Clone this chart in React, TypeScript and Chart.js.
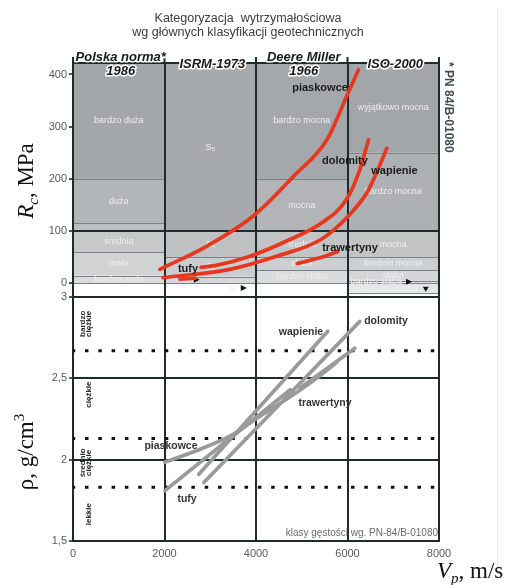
import React, { useEffect, useRef } from "react";
import { Chart, registerables } from "chart.js";

Chart.register(...registerables);

const SANS = '"Liberation Sans", Arial, sans-serif';
const SERIF = '"Liberation Serif", "Times New Roman", serif';

// ---- axes ----
const vpTicks = [0, 2000, 4000, 6000, 8000];
const rcTicks = [0, 100, 200, 300, 400];
const rhoTicks = [1.5, 2, 2.5, 3];
const rcRange = [-26, 422];
const rhoRange = [1.5, 3];

// ---- classification columns (top panel) ----
const columnEdges = [0, 2000, 4000, 6000, 8000];
const columnTitles = [["Polska norma*", "1986"], ["ISRM-1973"], ["Deere Miller", "1966"], ["ISO-2000"]];

const polskaBounds = [422, 200, 115, 100, 60, 15, 0];
const polskaClasses = ["bardzo duża", "duża", "", "średnia", "mała", "bardzo mała"];
const polskaColors = ["#a4a7aa", "#b3b6b8", "#bcbec1", "#c6c8ca", "#d0d2d4", "#dadcdd"];

const isrmBounds = [422, 100, 50, 13, 0];
const isrmClasses = ["S₅", "S₄", "S₃", ""];
const isrmColors = ["#a7aaad", "#bec0c2", "#cacccf", "#d5d7d8"];

const deereBounds = [422, 200, 100, 50, 25, 0];
const deereClasses = ["bardzo mocna", "mocna", "średnia", "słaba", "bardzo słaba"];
const deereColors = ["#a5a8ab", "#b2b4b7", "#c2c4c6", "#ccced0", "#d9dbdc"];

const isoBounds = [422, 250, 100, 50, 25, 5, 1, -18];
const isoClasses = ["wyjątkowo mocna", "bardzo mocna", "mocna", "średnio mocna", "słaba", "", ""];
const isoColors = ["#a3a6a9", "#aeb1b3", "#c2c4c6", "#cdcfd1", "#d4d6d8", "#dadcdd", "#e3e5e6"];

const arrowLabelText = ["S₂", "S₁", "bardzo słaba", "wyjątkowo słaba"];
const arrowLabelVp = [2450, 3480, 6630, 6820];
const arrowLabelRc = [7, -9, 3, -10];

// ---- Rc vs Vp curves (top panel) ----
const piaskowceVp = [1900, 2920, 3940, 4820, 5550, 5980, 6240];
const piaskowceRc = [27, 71, 129, 205, 275, 358, 409];
const dolomityVp = [2800, 3100, 3870, 4740, 5440, 5980, 6270, 6460];
const dolomityRc = [31, 34, 52, 84, 116, 161, 218, 275];
const wapienieVp = [1970, 3430, 4450, 5420, 6020, 6420, 6600, 6860];
const wapienieRc = [11, 27, 52, 84, 129, 173, 205, 259];
const trawertynyVp = [4900, 5350, 5790];
const trawertynyRc = [38, 48, 61];
const tufyVp = [2340, 2670];
const tufyRc = [8, 10];

const topLabelText = ["piaskowce", "dolomity", "wapienie", "trawertyny", "tufy"];
const topLabelVp = [5400, 5945, 7027, 6055, 2514];
const topLabelRc = [375, 235, 216, 67, 27];

// ---- density vs Vp lines (bottom panel) ----
const piaskowceVpB = [2010, 2780, 3500, 4020, 4740, 5330, 5770];
const piaskowceRho = [1.985, 2.064, 2.156, 2.255, 2.385, 2.502, 2.6];
const wapienieVpB = [2750, 5570];
const wapienieRho = [1.91, 2.79];
const dolomityVpB = [2860, 6270];
const dolomityRho = [1.86, 2.85];
const trawertynyVpB = [4960, 6160];
const trawertynyRho = [2.44, 2.685];
const tufyVpB = [2010, 4750];
const tufyRho = [1.81, 2.43];

const bottomLabelText = ["wapienie", "dolomity", "trawertyny", "piaskowce", "tufy"];
const bottomLabelVp = [4984, 6842, 5508, 2142, 2492];
const bottomLabelRho = [2.786, 2.854, 2.348, 2.082, 1.755];

// density classes PN-84/B-01080
const densityBounds = [1.5, 1.83, 2.13, 2.67, 3];
const densityClasses = [["lekkie"], ["średnio", "ciężkie"], ["ciężkie"], ["bardzo", "ciężkie"]];

type Part = { text: string; font: string; dy?: number };

function drawRich(ctx: CanvasRenderingContext2D, parts: Part[], x: number, y: number, angle: number, align: "left" | "center") {
  ctx.save();
  ctx.translate(x, y);
  ctx.rotate(angle);
  ctx.textAlign = "left";
  ctx.textBaseline = "alphabetic";
  let total = 0;
  for (const p of parts) {
    ctx.font = p.font;
    total += ctx.measureText(p.text).width;
  }
  let cx = align === "center" ? -total / 2 : 0;
  for (const p of parts) {
    ctx.font = p.font;
    ctx.fillText(p.text, cx, p.dy || 0);
    cx += ctx.measureText(p.text).width;
  }
  ctx.restore();
}

const toPts = (xs: number[], ys: number[]) => xs.map((x, i) => ({ x, y: ys[i] }));

const columns = [
  { bounds: polskaBounds, classes: polskaClasses, colors: polskaColors },
  { bounds: isrmBounds, classes: isrmClasses, colors: isrmColors },
  { bounds: deereBounds, classes: deereClasses, colors: deereColors },
  { bounds: isoBounds, classes: isoClasses, colors: isoColors },
];

const DARK = "#1f2a2c";

const decorPlugin = {
  id: "decor",
  beforeDraw(chart: any) {
    const { ctx } = chart;
    const xs = chart.scales.x;
    const yt = chart.scales.yTop;
    ctx.save();
    ctx.fillStyle = "#ffffff";
    ctx.fillRect(0, 0, chart.width, chart.height);
    columns.forEach((col, ci) => {
      const x0 = xs.getPixelForValue(columnEdges[ci]);
      const x1 = xs.getPixelForValue(columnEdges[ci + 1]);
      for (let i = 0; i < col.bounds.length - 1; i++) {
        const ya = yt.getPixelForValue(col.bounds[i]);
        const yb = yt.getPixelForValue(col.bounds[i + 1]);
        ctx.fillStyle = col.colors[i];
        ctx.fillRect(x0, ya, x1 - x0, yb - ya);
      }
      ctx.strokeStyle = "#7a8286";
      ctx.lineWidth = 1;
      for (let i = 1; i < col.bounds.length; i++) {
        const y = Math.round(yt.getPixelForValue(col.bounds[i])) + 0.5;
        ctx.beginPath();
        ctx.moveTo(x0, y);
        ctx.lineTo(x1, y);
        ctx.stroke();
      }
      ctx.fillStyle = "#eeeeee";
      ctx.font = `9px ${SANS}`;
      ctx.textAlign = "center";
      ctx.textBaseline = "middle";
      const xc = xs.getPixelForValue((columnEdges[ci] + columnEdges[ci + 1]) / 2);
      for (let i = 0; i < col.classes.length; i++) {
        if (!col.classes[i]) continue;
        const yc = yt.getPixelForValue((col.bounds[i] + col.bounds[i + 1]) / 2);
        ctx.fillText(col.classes[i], xc, yc);
      }
    });
    ctx.font = `9px ${SANS}`;
    ctx.textBaseline = "middle";
    arrowLabelText.forEach((t, i) => {
      const px = xs.getPixelForValue(arrowLabelVp[i]);
      const py = yt.getPixelForValue(arrowLabelRc[i]);
      ctx.fillStyle = "#eeeeee";
      ctx.textAlign = "center";
      ctx.fillText(t, px, py);
      const w = ctx.measureText(t).width;
      ctx.fillStyle = "#111111";
      ctx.beginPath();
      if (i === 3) {
        const ax = px + w / 2 + 8;
        ctx.moveTo(ax - 3, py - 2);
        ctx.lineTo(ax + 3, py - 2);
        ctx.lineTo(ax, py + 3);
      } else {
        const ax = px + w / 2 + 4;
        ctx.moveTo(ax, py - 3);
        ctx.lineTo(ax + 6, py);
        ctx.lineTo(ax, py + 3);
      }
      ctx.closePath();
      ctx.fill();
    });
    ctx.restore();
  },
  beforeDatasetsDraw(chart: any) {
    const { ctx, chartArea } = chart;
    const yb = chart.scales.yBot;
    ctx.save();
    ctx.strokeStyle = "#111111";
    ctx.lineWidth = 3;
    ctx.setLineDash([3.5, 9.8]);
    ctx.lineDashOffset = 1.3;
    for (let i = 1; i < densityBounds.length - 1; i++) {
      const y = yb.getPixelForValue(densityBounds[i]);
      ctx.beginPath();
      ctx.moveTo(chartArea.left, y);
      ctx.lineTo(chartArea.right, y);
      ctx.stroke();
    }
    ctx.restore();
  },
  afterDraw(chart: any) {
    const { ctx, chartArea } = chart;
    const xs = chart.scales.x;
    const yt = chart.scales.yTop;
    const yb = chart.scales.yBot;
    ctx.save();
    ctx.strokeStyle = DARK;
    ctx.lineWidth = 2;
    ctx.beginPath();
    ctx.moveTo(chartArea.left - 1, chartArea.top);
    ctx.lineTo(chartArea.right + 1, chartArea.top);
    columnEdges.forEach((v) => {
      const x = xs.getPixelForValue(v);
      ctx.moveTo(x, chartArea.top);
      ctx.lineTo(x, chartArea.top - 6);
    });
    ctx.stroke();

    ctx.strokeStyle = "#ebebeb";
    ctx.lineWidth = 1;
    ctx.beginPath();
    ctx.moveTo(497.5, 8);
    ctx.lineTo(497.5, 568);
    ctx.stroke();

    ctx.fillStyle = "#3c3c3c";
    ctx.font = `12.5px ${SANS}`;
    ctx.textAlign = "center";
    ctx.textBaseline = "alphabetic";
    ctx.fillText("Kategoryzacja  wytrzymałościowa", 248, 22);
    ctx.fillText("wg głównych klasyfikacji geotechnicznych", 248, 36);

    ctx.font = `italic bold 13px ${SANS}`;
    ctx.lineJoin = "round";
    columnTitles.forEach((lines, ci) => {
      const xc = xs.getPixelForValue((columnEdges[ci] + columnEdges[ci + 1]) / 2) + 2;
      const baselines = lines.length === 2 ? [61, 75] : [68];
      lines.forEach((t, li) => {
        ctx.strokeStyle = "#ffffff";
        ctx.lineWidth = 3;
        ctx.strokeText(t, xc, baselines[li]);
        ctx.fillStyle = "#1a1a1a";
        ctx.fillText(t, xc, baselines[li]);
      });
    });

    ctx.save();
    ctx.translate(chartArea.right + 3, chartArea.top - 1);
    ctx.rotate(Math.PI / 2);
    ctx.textAlign = "left";
    ctx.textBaseline = "bottom";
    ctx.font = `bold 12px ${SANS}`;
    ctx.fillStyle = "#3e4c52";
    ctx.fillText("* PN 84/B-01080", 0, 0);
    ctx.restore();

    ctx.textAlign = "center";
    ctx.textBaseline = "middle";
    ctx.font = `bold 11px ${SANS}`;
    ctx.fillStyle = "#1a1a1a";
    topLabelText.forEach((t, i) => {
      ctx.fillText(t, xs.getPixelForValue(topLabelVp[i]), yt.getPixelForValue(topLabelRc[i]));
    });

    ctx.font = `bold 10.5px ${SANS}`;
    ctx.fillStyle = "#353535";
    bottomLabelText.forEach((t, i) => {
      ctx.fillText(t, xs.getPixelForValue(bottomLabelVp[i]), yb.getPixelForValue(bottomLabelRho[i]));
    });

    ctx.font = `bold 8px ${SANS}`;
    ctx.fillStyle = "#2a2a2a";
    densityClasses.forEach((lines, i) => {
      const yc = yb.getPixelForValue((densityBounds[i] + densityBounds[i + 1]) / 2);
      const xcs = lines.length === 2 ? [82.5, 89] : [88.5];
      lines.forEach((t, li) => {
        ctx.save();
        ctx.translate(xcs[li], yc);
        ctx.rotate(-Math.PI / 2);
        ctx.textAlign = "center";
        ctx.textBaseline = "middle";
        ctx.fillText(t, 0, 0);
        ctx.restore();
      });
    });

    ctx.font = `10px ${SANS}`;
    ctx.fillStyle = "#6a6a6a";
    ctx.textAlign = "right";
    ctx.textBaseline = "alphabetic";
    ctx.fillText("klasy gęstości wg. PN-84/B-01080", chartArea.right - 1, chartArea.bottom - 5);

    ctx.fillStyle = "#111111";
    drawRich(
      ctx,
      [
        { text: "R", font: `italic 23px ${SERIF}` },
        { text: "c", font: `italic 15px ${SERIF}`, dy: 5 },
        { text: ", MPa", font: `23px ${SERIF}` },
      ],
      33,
      (yt.top + yt.bottom) / 2 + 1,
      -Math.PI / 2,
      "center"
    );
    drawRich(
      ctx,
      [
        { text: "ρ, g/cm", font: `23px ${SERIF}` },
        { text: "3", font: `15px ${SERIF}`, dy: -9 },
      ],
      33,
      452,
      -Math.PI / 2,
      "center"
    );
    drawRich(
      ctx,
      [
        { text: "V", font: `italic 23px ${SERIF}` },
        { text: "p", font: `italic 15px ${SERIF}`, dy: 5 },
        { text: ", m/s", font: `23px ${SERIF}` },
      ],
      437,
      578,
      0,
      "left"
    );
    ctx.restore();
  },
};

export default function App() {
  const ref = useRef<HTMLCanvasElement | null>(null);

  useEffect(() => {
    if (!ref.current) return;
    const red = "#e8371f";
    const gray = "#9a9a9a";
    const lineDs = (pts: any[], axis: string, color: string) => ({
      type: "line" as const,
      data: pts,
      yAxisID: axis,
      borderColor: color,
      borderWidth: 3.7,
      pointRadius: 0,
      fill: false,
      showLine: true,
      cubicInterpolationMode: "monotone" as const,
      borderCapStyle: "round" as const,
    });

    const chart = new Chart(ref.current, {
      type: "line",
      data: {
        datasets: [
          lineDs(toPts(piaskowceVp, piaskowceRc), "yTop", red),
          lineDs(toPts(dolomityVp, dolomityRc), "yTop", red),
          lineDs(toPts(wapienieVp, wapienieRc), "yTop", red),
          lineDs(toPts(trawertynyVp, trawertynyRc), "yTop", red),
          lineDs(toPts(tufyVp, tufyRc), "yTop", red),
          lineDs(toPts(piaskowceVpB, piaskowceRho), "yBot", gray),
          lineDs(toPts(wapienieVpB, wapienieRho), "yBot", gray),
          lineDs(toPts(dolomityVpB, dolomityRho), "yBot", gray),
          lineDs(toPts(trawertynyVpB, trawertynyRho), "yBot", gray),
          lineDs(toPts(tufyVpB, tufyRho), "yBot", gray),
        ],
      },
      options: {
        animation: false,
        responsive: false,
        maintainAspectRatio: false,
        devicePixelRatio: 1,
        layout: { padding: { left: 0, right: 74, top: 63, bottom: 24 } },
        plugins: {
          legend: { display: false },
          tooltip: { enabled: false },
          title: { display: false },
        },
        scales: {
          x: {
            type: "linear",
            min: 0,
            max: 8000,
            afterBuildTicks: (s: any) => {
              s.ticks = vpTicks.map((v) => ({ value: v }));
            },
            afterFit: (s: any) => {
              s.height = 20;
            },
            grid: { color: DARK, lineWidth: 2, drawTicks: false },
            border: { display: true, color: DARK, width: 2 },
            ticks: {
              color: "#5a5a5a",
              font: { size: 11, family: SANS },
              padding: 6,
              maxRotation: 0,
              callback: (v: any) => String(v),
            },
          },
          yTop: {
            type: "linear",
            position: "left",
            stack: "panels",
            stackWeight: 234,
            weight: 2,
            min: rcRange[0],
            max: rcRange[1],
            afterBuildTicks: (s: any) => {
              s.ticks = rcTicks.map((v) => ({ value: v }));
            },
            afterFit: (s: any) => {
              s.width = 73;
            },
            grid: {
              color: (c: any) => (c.tick && c.tick.value === 100 ? DARK : "rgba(0,0,0,0)"),
              tickColor: "#555555",
              lineWidth: 2,
              tickLength: 4,
            },
            border: { display: true, color: DARK, width: 2 },
            ticks: {
              color: "#5a5a5a",
              font: { size: 11, family: SANS },
              padding: 2,
              callback: (v: any) => String(v),
            },
          },
          yBot: {
            type: "linear",
            position: "left",
            stack: "panels",
            stackWeight: 244,
            weight: 1,
            min: rhoRange[0],
            max: rhoRange[1],
            afterBuildTicks: (s: any) => {
              s.ticks = rhoTicks.map((v) => ({ value: v }));
            },
            afterFit: (s: any) => {
              s.width = 73;
            },
            grid: {
              color: (c: any) => (c.tick && c.tick.value > 1.6 ? DARK : "rgba(0,0,0,0)"),
              tickColor: "#555555",
              lineWidth: 2,
              tickLength: 4,
            },
            border: { display: true, color: DARK, width: 2 },
            ticks: {
              color: "#5a5a5a",
              font: { size: 11, family: SANS },
              padding: 2,
              callback: (v: any) => String(v).replace(".", ","),
            },
          },
        },
      } as any,
      plugins: [decorPlugin],
    });
    return () => chart.destroy();
  }, []);

  return (
    <div style={{ position: "absolute", left: 0, top: 0, width: 513, height: 585 }}>
      <canvas ref={ref} width={513} height={585} style={{ display: "block", width: 513, height: 585 }} />
    </div>
  );
}
